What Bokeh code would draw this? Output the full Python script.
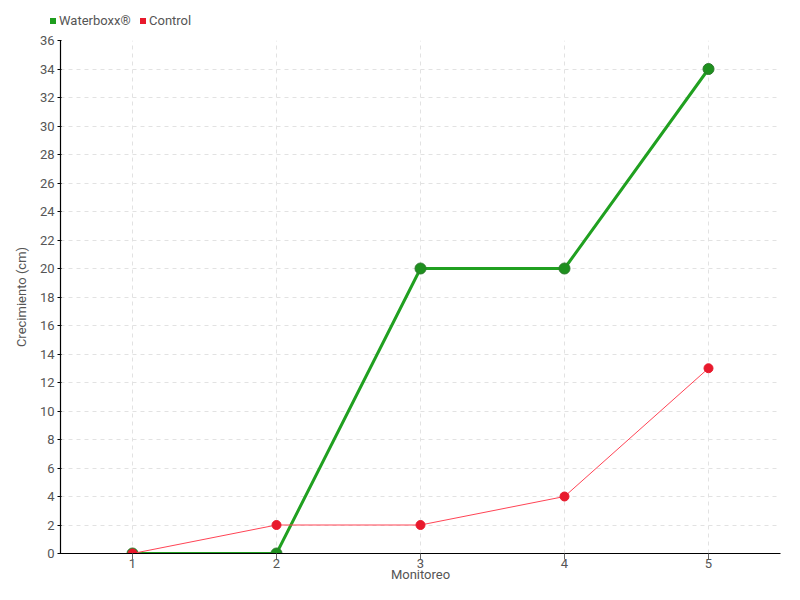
from bokeh.plotting import figure
from bokeh.models import FixedTicker, SingleIntervalTicker, Range1d, Div
from bokeh.layouts import column
from bokeh.embed import file_html
from bokeh.resources import INLINE

monitoreo = [1, 2, 3, 4, 5]
waterboxx = [0, 0, 20, 20, 34]
control = [0, 2, 2, 4, 13]
series_names = ["Waterboxx®", "Control"]
series_colors = ["#1e9e1e", "#e8192c"]

FONT = "Roboto"
TXT = "#555555"

# legend as HTML block above the chart
legend_html = '<div style="position:relative;width:784px;height:28px;font-family:Roboto;font-size:13px;color:#555555;">'
lefts = [50, 140]
for name, col, lx in zip(series_names, series_colors, lefts):
    legend_html += ('<span style="position:absolute;left:%dpx;top:18px;width:6px;height:6px;background:%s;"></span>' % (lx, col))
    legend_html += ('<span style="position:absolute;left:%dpx;top:12px;line-height:18px;white-space:nowrap;">%s</span>' % (lx + 9, name))
legend_html += '</div>'
legend_div = Div(text=legend_html, width=784, height=28, margin=(0, 0, 0, 0))

p = figure(width=784, height=556, output_backend="svg", toolbar_location=None,
           x_range=Range1d(0.5, 5.5), y_range=Range1d(0, 36),
           min_border_left=60, min_border_right=4, min_border_top=12, min_border_bottom=24)
p.outline_line_color = None
p.background_fill_color = "white"
p.border_fill_color = "white"

p.xaxis.ticker = FixedTicker(ticks=monitoreo)
p.yaxis.ticker = SingleIntervalTicker(interval=2)
p.xaxis.minor_tick_line_color = None
p.yaxis.minor_tick_line_color = None
for ax in (p.xaxis, p.yaxis):
    ax.axis_line_color = "black"
    ax.axis_line_width = 1.2
    ax.major_label_text_font = FONT
    ax.major_label_text_color = TXT
    ax.major_label_text_font_size = "13px"
    ax.axis_label_text_font = FONT
    ax.axis_label_text_color = TXT
    ax.axis_label_text_font_size = "13px"
    ax.axis_label_text_font_style = "normal"
p.xaxis.major_tick_in = 0
p.xaxis.major_tick_out = 6
p.xaxis.major_tick_line_color = "#666666"
p.xaxis.major_label_standoff = -1
p.xaxis.axis_label = "Monitoreo"
p.xaxis.axis_label_standoff = -4
p.yaxis.major_tick_in = 1
p.yaxis.major_tick_out = 3
p.yaxis.major_tick_line_color = "black"
p.yaxis.major_label_standoff = 2
p.yaxis.axis_label = "Crecimiento (cm)"
p.yaxis.axis_label_standoff = 8

p.xgrid.ticker = FixedTicker(ticks=monitoreo)
for g in (p.xgrid, p.ygrid):
    g.grid_line_color = "#e2e2e2"
    g.grid_line_dash = "4 4"
    g.grid_line_width = 1

p.line(monitoreo, waterboxx, line_color="#20a020", line_width=3)
p.scatter(monitoreo, waterboxx, size=11, fill_color="#1e901e", line_color="#2d7a2d", line_width=1)
p.line(monitoreo, control, line_color="#ff4455", line_width=1)
p.scatter(monitoreo, control, size=9, fill_color="#e8192c", line_color="#e8192c")

layout = column(legend_div, p, spacing=0)
open("out.html", "w").write(file_html(layout, INLINE))
